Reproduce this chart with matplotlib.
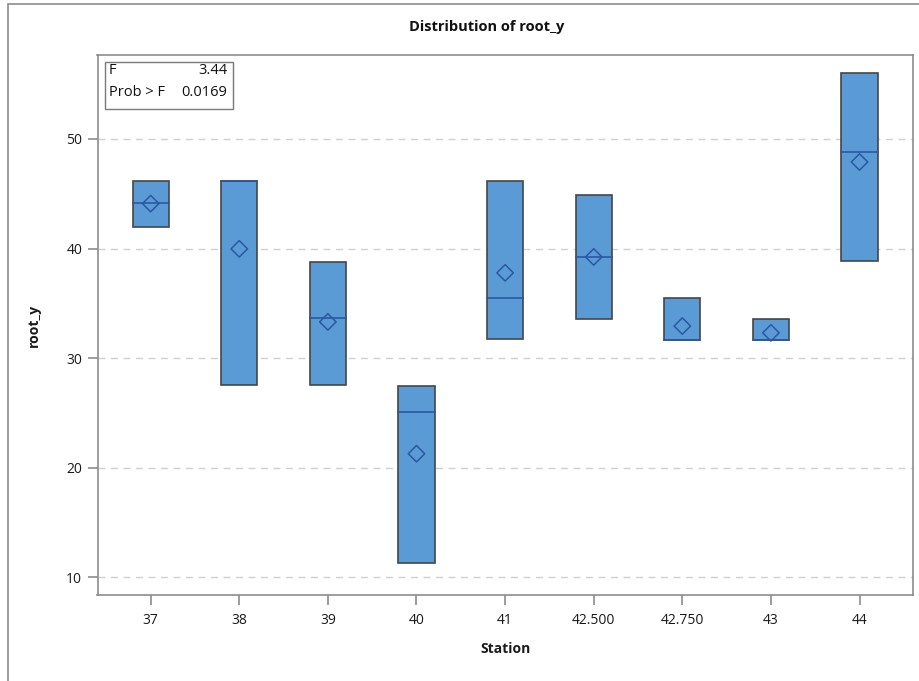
import matplotlib
matplotlib.use("Agg")
import matplotlib.pyplot as plt
from matplotlib.patches import Rectangle
import numpy as np

plt.rcParams['font.family'] = ['Open Sans', 'DejaVu Sans']

stations = ["37", "38", "39", "40", "41", "42.500", "42.750", "43", "44"]
box_low = [41.96, 27.5, 27.5, 11.28, 31.7, 33.6, 31.65, 31.65, 38.9]
box_high = [46.2, 46.2, 38.77, 27.44, 46.2, 44.9, 35.45, 33.6, 56.03]
medians = [44.16, 46.2, 33.65, 25.07, 35.45, 39.2, 31.65, 31.65, 48.8]
means = [44.1, 39.97, 33.3, 21.26, 37.78, 39.23, 32.92, 32.3, 47.9]
f_value = "3.44"
prob_f = "0.0169"
yticks = [10, 20, 30, 40, 50]

W, H = 919, 681
fig = plt.figure(figsize=(W / 100, H / 100), dpi=100)

# outer border
fig.patches.append(Rectangle((8 / W, -0.1), 1.2, 1 - 3.5 / H + 0.1, transform=fig.transFigure,
                             fill=False, edgecolor='#8c8c8c', linewidth=1.2))

left, right, top, bottom = 97.5, 912.7, 55, 595
ax = fig.add_axes([left / W, 1 - bottom / H, (right - left) / W, (bottom - top) / H])

fill = '#5b9bd5'
edge = '#454545'
med_c = '#2a58a3'
bw = 0.41
x = np.arange(len(stations))
for i in x:
    lo, hi = box_low[i], box_high[i]
    ax.add_patch(Rectangle((i - bw / 2, lo), bw, hi - lo, facecolor=fill, edgecolor=edge,
                           linewidth=1.2, zorder=3))
    ax.plot([i - bw / 2, i + bw / 2], [medians[i]] * 2, color=med_c, linewidth=1.2, zorder=4)
ax.scatter(x, means, marker='D', s=70, facecolors='none', edgecolors=med_c, linewidths=1.1, zorder=5)

ax.set_xlim(-0.6, 8.6)
ax.set_ylim(8.36, 57.67)
ax.set_xticks(x)
ax.set_xticklabels(stations)
ax.set_yticks(yticks)
ax.yaxis.grid(True, linestyle=(0, (5, 4)), color='#d0d0d0', linewidth=1.0, zorder=0)
ax.set_axisbelow(True)
for s in ax.spines.values():
    s.set_color('#8c8c8c')
    s.set_linewidth(1.2)
ax.tick_params(axis='both', colors='#8c8c8c', labelcolor='#1a1a1a', labelsize=10, length=7, width=1.2)
ax.tick_params(axis='x', pad=6)
ax.tick_params(axis='y', pad=4)

ax.set_xlabel("Station", fontsize=10, fontweight='bold', color='#1a1a1a', labelpad=10)
ax.set_ylabel("root_y", fontsize=10, fontweight='bold', color='#1a1a1a', labelpad=18)
fig.text(487 / W, 1 - 27 / H, "Distribution of root_y", fontsize=10.5, fontweight='bold',
         ha='center', va='center', color='#111111')

# inset stats box
bx0, bx1, by0, by1 = 105, 233, 62, 109
fig.patches.append(Rectangle((bx0 / W, 1 - by1 / H), (bx1 - bx0) / W, (by1 - by0) / H,
                             transform=fig.transFigure, fill=False, edgecolor='#7a7a7a', linewidth=1.0))
fig.text(109 / W, 1 - 71 / H, "F", fontsize=10.5, va='center', ha='left', color='#111111')
fig.text(227 / W, 1 - 71 / H, f_value, fontsize=10.5, va='center', ha='right', color='#111111')
fig.text(109 / W, 1 - 93 / H, "Prob > F", fontsize=10.5, va='center', ha='left', color='#111111')
fig.text(227 / W, 1 - 93 / H, prob_f, fontsize=10.5, va='center', ha='right', color='#111111')

fig.savefig("out.png", dpi=100)
